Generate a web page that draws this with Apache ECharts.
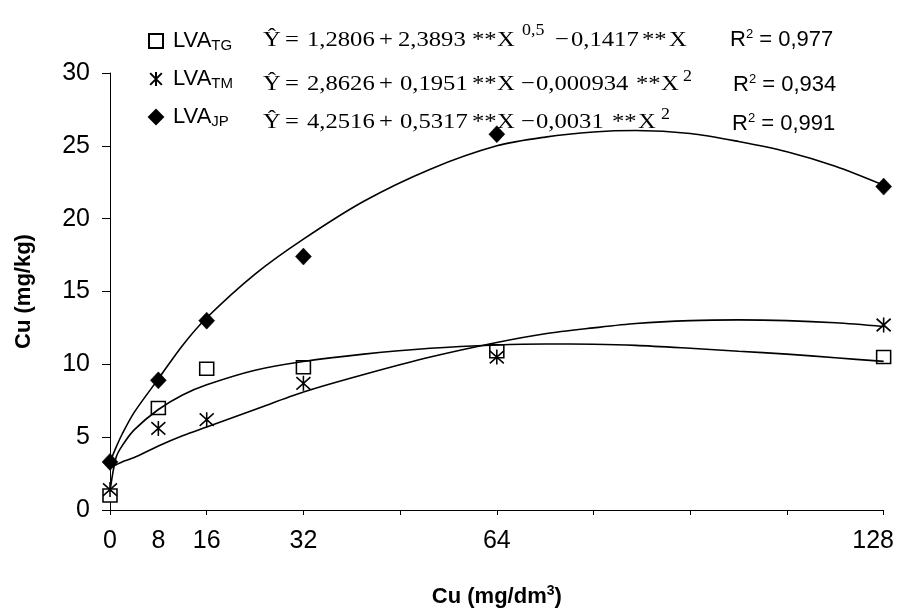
<!DOCTYPE html>
<html>
<head>
<meta charset="utf-8">
<script src="https://cdn.jsdelivr.net/npm/echarts@6/dist/echarts.min.js"></script>
<style>
  html, body { margin: 0; padding: 0; background: #fff; }
  #chart { width: 897px; height: 615px; }
</style>
</head>
<body>
<div id="chart"></div>
<script>
// Cu doses applied (mg/dm3) and Cu recovered (mg/kg) for three soils
const xLevels = [0, 8, 16, 32, 64, 128];
const obsTG = [1.0, 7.0, 9.7, 9.8, 10.9, 10.5];
const obsTM = [1.4, 5.6, 6.2, 8.7, 10.5, 12.7];
const obsJP = [3.3, 8.9, 13.0, 17.4, 25.8, 22.2];

// fitted response curves, sampled along the dose axis
const fitX  = [0, 1, 2, 4, 8, 12, 16, 24, 32, 42, 53, 64, 72, 80, 87, 96, 104, 112, 120, 128];
const fitTG = [1.3, 3.6, 4.4, 5.5, 6.9, 7.9, 8.6, 9.6, 10.2, 10.7, 11.1, 11.33, 11.4, 11.38, 11.3, 11.1, 10.9, 10.7, 10.45, 10.2];
const fitTM = [2.9, 3.1, 3.3, 3.6, 4.4, 5.1, 5.7, 6.9, 8.1, 9.3, 10.5, 11.5, 12.1, 12.5, 12.8, 13.0, 13.05, 13.0, 12.85, 12.6];
const fitJP = [3.3, 4.3, 5.2, 6.7, 9.0, 11.3, 13.2, 16.2, 18.6, 21.2, 23.4, 25.0, 25.6, 25.95, 26.05, 25.85, 25.3, 24.6, 23.6, 22.3];

// soil names and regression statistics
const soils = ['TG', 'TM', 'JP'];
const r2Labels = ['0,977', '0,934', '0,991'];
const xTickLabels = [0, 8, 16, 32, 64, 128];
const yTicks = { min: 0, max: 30, step: 5 };

const SANS = "'Liberation Sans', Arial, sans-serif";
const SERIF = "'Liberation Serif', 'Times New Roman', serif";

const pairs = (xs, ys) => xs.map((x, i) => [x, ys[i]]);

// six-armed asterisk marker
const asterisk = 'path://M0,0L10,10M10,0L0,10M5,-1L5,11';

// equation pieces per row: [text, x, superscript?]
const eqRows = [
  { y: 40, supDy: -9, parts: [['Ŷ', 263], ['=', 285], ['1,2806', 307], ['+', 379], ['2,3893', 398], ['**', 472], ['X', 497], ['0,5', 522, true], ['\u2212', 555], ['0,1417', 571], ['**', 642], ['X', 669]] },
  { y: 84, supDy: -7, parts: [['Ŷ', 263], ['=', 285], ['2,8626', 307], ['+', 379], ['0,1951', 400], ['**', 472], ['X', 497], ['\u2212', 521], ['0,000934', 536], ['**', 636], ['X', 661], ['2', 683, true]] },
  { y: 122, supDy: -7, parts: [['Ŷ', 263], ['=', 285], ['4,2516', 307], ['+', 379], ['0,5317', 400], ['**', 472], ['X', 497], ['\u2212', 521], ['0,0031', 536], ['**', 612], ['X', 638], ['2', 661, true]] }
];
const r2Pos = [[730, 40], [733, 85], [732, 124]];

const graphics = [];
eqRows.forEach(row => {
  row.parts.forEach(([txt, x, sup]) => {
    graphics.push({
      type: 'text', x: x, y: row.y + (sup ? row.supDy : 0), scaleX: 1.12, silent: true,
      style: {
        text: txt, fill: '#000', align: 'left', verticalAlign: 'middle',
        fontFamily: SERIF, fontSize: sup ? 16 : 22
      }
    });
  });
});
r2Labels.forEach((r, i) => {
  graphics.push({
    type: 'text', x: r2Pos[i][0], y: r2Pos[i][1], silent: true,
    style: {
      text: 'R{s|2} = ' + r, fill: '#000', align: 'left', verticalAlign: 'middle',
      fontFamily: SANS, fontSize: 22, lineHeight: 24,
      rich: { s: { fontFamily: SANS, fontSize: 13, lineHeight: 13, verticalAlign: 'top', fill: '#000' } }
    }
  });
});

const markerStyles = {
  TG: { symbol: 'rect', symbolSize: [14, 13], itemStyle: { color: '#fff', borderColor: '#000', borderWidth: 1.5, opacity: 1 } },
  TM: { symbol: asterisk, symbolSize: [14, 15], itemStyle: { color: 'transparent', borderColor: '#000', borderWidth: 1.6, opacity: 1 } },
  JP: { symbol: 'diamond', symbolSize: [16, 17], itemStyle: { color: '#000', borderColor: '#000', borderWidth: 0.5, opacity: 1 } }
};
const obs = { TG: obsTG, TM: obsTM, JP: obsJP };
const fits = { TG: fitTG, TM: fitTM, JP: fitJP };

const series = [];
soils.forEach(s => {
  series.push(Object.assign({
    name: s, type: 'scatter', xAxisIndex: 0, yAxisIndex: 0, z: 2,
    data: pairs(xLevels, obs[s])
  }, markerStyles[s]));
});
soils.forEach(s => {
  series.push({
    name: 'fit-' + s, type: 'line', xAxisIndex: 0, yAxisIndex: 0, z: 3,
    data: pairs(fitX, fits[s]), smooth: 0.3,
    showSymbol: false, silent: true,
    lineStyle: { color: '#000', width: 1.6 }
  });
});

const chart = echarts.init(document.getElementById('chart'), null, { renderer: 'canvas' });
chart.setOption({
  animation: false,
  backgroundColor: '#fff',
  grid: { left: 110, right: 13, top: 73, bottom: 104 },
  legend: {
    data: soils, orient: 'vertical', left: 148, top: 29, itemGap: 14, padding: 0,
    itemWidth: 14, itemHeight: 14, selectedMode: false,
    formatter: name => 'LVA{s|' + name + '}',
    textStyle: {
      fontFamily: SANS, fontSize: 22, lineHeight: 24, color: '#000', padding: [0, 0, 0, 5],
      rich: { s: { fontFamily: SANS, fontSize: 15, lineHeight: 22, verticalAlign: 'bottom', color: '#000' } }
    }
  },
  xAxis: [
    {
      type: 'value', min: 0, max: 128, interval: 16, position: 'bottom',
      axisLine: { show: true, onZero: false, lineStyle: { color: '#000', width: 1 } },
      axisTick: { show: true, inside: false, length: 5, lineStyle: { color: '#000' } },
      axisLabel: { show: false }, splitLine: { show: false }
    },
    {
      type: 'value', min: 0, max: 128, interval: 8, position: 'bottom',
      axisLine: { show: false, onZero: false }, axisTick: { show: false }, splitLine: { show: false },
      axisLabel: {
        show: true, margin: 19, color: '#000', fontFamily: SANS, fontSize: 25, interval: 0,
        showMinLabel: true, showMaxLabel: true,
        formatter: v => {
          if (xTickLabels.indexOf(v) < 0) return '';
          return v === 128 ? '{r|' + v + '}' : String(v);
        },
        rich: { r: { fontFamily: SANS, fontSize: 25, color: '#000', padding: [0, 21, 0, 0] } }
      },
      name: 'Cu (mg/dm{p|3})', nameLocation: 'middle', nameGap: 74,
      nameTextStyle: {
        fontFamily: SANS, fontSize: 22, fontWeight: 'bold', color: '#000', lineHeight: 26,
        rich: { p: { fontFamily: SANS, fontSize: 14, fontWeight: 'bold', lineHeight: 14, verticalAlign: 'top', color: '#000' } }
      }
    }
  ],
  yAxis: {
    type: 'value', min: yTicks.min, max: yTicks.max, interval: yTicks.step,
    axisLine: { show: true, lineStyle: { color: '#000', width: 1 } },
    axisTick: { show: true, inside: false, length: 8, lineStyle: { color: '#000' } },
    axisLabel: { margin: 20, color: '#000', fontFamily: SANS, fontSize: 25 },
    splitLine: { show: false },
    name: 'Cu (mg/kg)', nameLocation: 'middle', nameGap: 75, nameRotate: 90,
    nameTextStyle: { fontFamily: SANS, fontSize: 22, fontWeight: 'bold', color: '#000' }
  },
  graphic: graphics,
  series: series
});
</script>
</body>
</html>
